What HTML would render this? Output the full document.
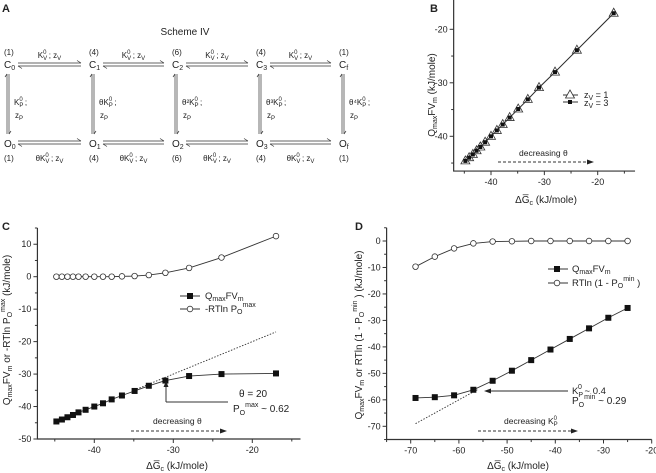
<!DOCTYPE html>
<html><head><meta charset="utf-8"><style>
body{margin:0;background:#fff}
svg{display:block;font-family:"Liberation Sans",sans-serif}
text{fill:#222}
</style></head><body>
<svg id="fig" width="656" height="473" viewBox="0 0 656 473">
<g font-size="11" font-weight="bold">
<text x="2" y="12">A</text>
<text x="430" y="12">B</text>
<text x="2" y="230">C</text>
<text x="355" y="230">D</text>
</g>
<g id="scheme" font-size="9"></g>
<g id="pb"></g>
<g id="pc"></g>
<g id="pd"></g>
</svg>
<script>
// Panel B data
const bX=[-44.8,-44.1,-43.4,-42.7,-42.0,-41.1,-40.0,-38.9,-37.8,-36.5,-34.9,-33.1,-31.0,-28.0,-23.9,-17.0];
const bZ1=[-44.6,-44.0,-43.4,-42.7,-42.0,-41.1,-40.0,-38.9,-37.8,-36.5,-34.9,-33.1,-30.9,-28.0,-23.9,-17.0];
const bZ3=[-44.6,-44.0,-43.4,-42.7,-42.0,-41.1,-40.0,-38.9,-37.8,-36.5,-34.9,-33.1,-30.9,-28.0,-23.9,-17.0];
// Panel C data
const cX=[-44.8,-44.1,-43.4,-42.7,-42.0,-41.1,-40.0,-38.9,-37.8,-36.5,-34.9,-33.1,-31.0,-28.0,-23.9,-17.0];
const cQ=[-44.6,-44.0,-43.3,-42.6,-41.8,-41.0,-40.0,-39.0,-37.8,-36.6,-35.2,-33.6,-32.0,-30.6,-30.0,-29.8];
const cP=[0,0,0,0,0,0,0,0,0,0.1,0.2,0.5,1.2,2.7,5.9,12.5];
// Panel D data
const dX=[-69,-65,-61,-57,-53,-49,-45,-41,-37,-33,-29,-25];
const dQ=[-59.3,-59.0,-58.3,-56.2,-52.8,-49.0,-45.0,-41.0,-37.0,-33.0,-29.0,-25.3];
const dP=[-9.7,-5.9,-2.8,-0.9,-0.2,-0.1,0,0,0,0,0,0];
const bXt=[-40,-30,-20], bYt=[-20,-30,-40];
const cXt=[-40,-30,-20], cYt=[10,0,-10,-20,-30,-40,-50];
const dXt=[-70,-60,-50,-40,-30,-20], dYt=[0,-10,-20,-30,-40,-50,-60,-70];

const NS="http://www.w3.org/2000/svg";
function mk(p,t,a,txt){const e=document.createElementNS(NS,t);for(const k in a)e.setAttribute(k,a[k]);if(txt!==undefined)e.textContent=txt;p.appendChild(e);return e;}
function lin(d0,d1,r0,r1){return v=>r0+(v-d0)*(r1-r0)/(d1-d0);}

function axes(g,X,Y,x0,x1,y0,y1,xt,yt,minorX,minorY){
  const ax=mk(g,'path',{d:`M${X(x0)},${Y(y1)}V${Y(y0)}H${X(x1)}`,fill:'none',stroke:'#333','stroke-width':1.2});
  
  
  xt.forEach(v=>{mk(g,'line',{x1:X(v),x2:X(v),y1:Y(y0),y2:Y(y0)+4,stroke:'#333'});
    const t=mk(g,'text',{x:X(v),y:Y(y0)+14,'text-anchor':'middle','font-size':9},String(v));
    
    });
  minorX.forEach(v=>mk(g,'line',{x1:X(v),x2:X(v),y1:Y(y0),y2:Y(y0)+2.5,stroke:'#333'}));
  yt.forEach(v=>{mk(g,'line',{x1:X(x0)-4,x2:X(x0),y1:Y(v),y2:Y(v),stroke:'#333'});
    const t=mk(g,'text',{x:X(x0)-6,y:Y(v)+3,'text-anchor':'end','font-size':9},String(v));
    
    });
  minorY.forEach(v=>mk(g,'line',{x1:X(x0)-2.5,x2:X(x0),y1:Y(v),y2:Y(v),stroke:'#333'}));
}
function series(g,X,Y,xs,ys,kind,name){
  const s=mk(g,'g',{});
  
  
  mk(s,'polyline',{points:xs.map((x,i)=>X(x)+','+Y(ys[i])).join(' '),fill:'none',stroke:'#333','stroke-width':0.9});
  xs.forEach((x,i)=>marker(s,X(x),Y(ys[i]),kind));
}
function marker(g,x,y,kind){
  let m;
  if(kind==='sq')m=mk(g,'rect',{x:x-3,y:y-3,width:6,height:6,fill:'#111'});
  else if(kind==='ci')m=mk(g,'circle',{cx:x,cy:y,r:2.8,fill:'#fff',stroke:'#333','stroke-width':0.8});
  else if(kind==='tri')m=mk(g,'path',{d:`M${x},${y-5}L${x+4.5},${y+3}H${x-4.5}Z`,fill:'#fff',stroke:'#333','stroke-width':0.8});
  else m=mk(g,'rect',{x:x-2,y:y-2,width:4,height:4,fill:'#111'});
  
  
}
function arrowR(g,x1,x2,y){mk(g,'line',{x1,x2:x2-5,y1:y,y2:y,stroke:'#333','stroke-dasharray':'3,2'});mk(g,'path',{d:`M${x2},${y}l-7,-2.5v5z`,fill:'#222'});}

// Panel B
(function(){const g=document.getElementById('pb');
const X=lin(-40,-20,491,597.7),Y=lin(-20,-40,29.3,136.3);
axes(g,X,Y,-47,-13,-46.5,-11.5,bXt,bYt,[-45,-35,-25,-15],[-25,-35,-45]);
series(g,X,Y,bX,bZ1,'tri','series-zv-1');
series(g,X,Y,bX,bZ3,'small','series-zv-3');
const l=mk(g,'g',{font:'9px'});
mk(l,'line',{x1:563,x2:578,y1:95,y2:95,stroke:'#333'});marker(l,570,95,'tri');
mk(l,'text',{x:584,y:98,'font-size':9},'z').appendChild(Object.assign(document.createElementNS(NS,'tspan'),{textContent:''}));
l.lastChild.innerHTML='z<tspan font-size="7" dy="2">V</tspan><tspan dy="-2"> =  1</tspan>';
mk(l,'line',{x1:563,x2:578,y1:102,y2:102,stroke:'#333'});marker(l,570,102,'small');
const t2=mk(l,'text',{x:584,y:106,'font-size':9});t2.innerHTML='z<tspan font-size="7" dy="2">V</tspan><tspan dy="-2"> =  3</tspan>';
mk(g,'text',{x:519,y:156,'font-size':8.5},'decreasing  θ');
arrowR(g,498,594,162);
const xl=mk(g,'text',{x:546,y:203,'text-anchor':'middle','font-size':10});xl.innerHTML='ΔG̅<tspan font-size="7" dy="2">c</tspan><tspan dy="-2"> (kJ/mole)</tspan>';

const yl=mk(g,'text',{transform:'translate(435,95) rotate(-90)','text-anchor':'middle','font-size':10});yl.innerHTML='Q<tspan font-size="7" dy="2">max</tspan><tspan dy="-2">FV</tspan><tspan font-size="7" dy="2">m</tspan><tspan dy="-2">  (kJ/mole)</tspan>';

})();

// Panel C
(function(){const g=document.getElementById('pc');
const X=lin(-40,-20,94.3,252.3),Y=lin(0,-50,276.7,439);
axes(g,X,Y,-47.2,-13.9,-50,15,cXt,cYt,[-45,-35,-25,-15],[15,5,-5,-15,-25,-35,-45]);
mk(g,'line',{x1:X(-35),y1:Y(-35),x2:X(-17),y2:Y(-17),stroke:'#333','stroke-dasharray':'1.5,1.5','stroke-width':0.9});
series(g,X,Y,cX,cQ,'sq','series-qmax-fvm');
series(g,X,Y,cX,cP,'ci','series-rtln-pomax');
const l=mk(g,'g',{});
mk(l,'line',{x1:180,x2:200,y1:296,y2:296,stroke:'#333'});marker(l,190,296,'sq');
let t=mk(l,'text',{x:205,y:299,'font-size':9.5});t.innerHTML='Q<tspan font-size="7" dy="2">max</tspan><tspan dy="-2">FV</tspan><tspan font-size="7" dy="2">m</tspan>';
mk(l,'line',{x1:180,x2:200,y1:309,y2:309,stroke:'#333'});marker(l,190,309,'ci');
t=mk(l,'text',{x:205,y:312,'font-size':9.5});t.innerHTML='-RTln P<tspan font-size="7" dy="2">O</tspan><tspan font-size="7" dy="-7">max</tspan>';
mk(g,'path',{d:'M166,402V383',stroke:'#333',fill:'none'});mk(g,'path',{d:'M166,381l-2.5,6h5z',fill:'#222'});
mk(g,'path',{d:'M166,402H228',stroke:'#333',fill:'none'});
mk(g,'text',{x:239,y:397,'font-size':10},'θ = 20');
t=mk(g,'text',{x:233,y:412,'font-size':10});t.innerHTML='P<tspan font-size="7" dy="3">O</tspan><tspan font-size="7" dy="-8">max</tspan><tspan dy="5"> ~ 0.62</tspan>';
mk(g,'text',{x:153,y:424,'font-size':8.5},'decreasing  θ');
arrowR(g,131,227,431);
const xl=mk(g,'text',{x:177,y:469,'text-anchor':'middle','font-size':10});xl.innerHTML='ΔG̅<tspan font-size="7" dy="2">c</tspan><tspan dy="-2"> (kJ/mole)</tspan>';

const yl=mk(g,'text',{transform:'translate(10,330) rotate(-90)','text-anchor':'middle','font-size':10});yl.innerHTML='Q<tspan font-size="7" dy="2">max</tspan><tspan dy="-2">FV</tspan><tspan font-size="7" dy="2">m</tspan><tspan dy="-2">  or  -RTln P</tspan><tspan font-size="7" dy="2">O</tspan><tspan font-size="7" dy="-7">max</tspan><tspan dy="5"> (kJ/mole)</tspan>';

})();

// Panel D
(function(){const g=document.getElementById('pd');
const X=lin(-70,-20,410.7,651.7),Y=lin(0,-70,241,426.3);
axes(g,X,Y,-75,-20,-75,5,dXt,dYt,[-75,-65,-55,-45,-35,-25],[5,-5,-15,-25,-35,-45,-55,-65,-75]);
mk(g,'line',{x1:X(-69),y1:Y(-69),x2:X(-56),y2:Y(-56),stroke:'#333','stroke-dasharray':'1.5,1.5','stroke-width':0.9});
series(g,X,Y,dX,dQ,'sq','series-qmax-fvm');
series(g,X,Y,dX,dP,'ci','series-rtln-1-pomin');
const l=mk(g,'g',{});
mk(l,'line',{x1:548,x2:568,y1:269,y2:269,stroke:'#333'});marker(l,557,269,'sq');
let t=mk(l,'text',{x:572,y:272,'font-size':9.5});t.innerHTML='Q<tspan font-size="7" dy="2">max</tspan><tspan dy="-2">FV</tspan><tspan font-size="7" dy="2">m</tspan>';
mk(l,'line',{x1:548,x2:568,y1:283,y2:283,stroke:'#333'});marker(l,557,283,'ci');
t=mk(l,'text',{x:572,y:286,'font-size':9.5});t.innerHTML='RTln (1 - P<tspan font-size="7" dy="2">O</tspan><tspan font-size="7" dy="-7">min</tspan><tspan dy="5"> )</tspan>';
mk(g,'line',{x1:568,x2:490,y1:391,y2:391,stroke:'#555','stroke-width':1.2});mk(g,'path',{d:'M484,391l7,-2.5v5z',fill:'#222'});
t=mk(g,'text',{x:572,y:394,'font-size':9.5});t.innerHTML='K<tspan font-size="7" dy="3">P</tspan><tspan font-size="7" dx="-5" dy="-8">0</tspan><tspan dy="5">  ~  0.4</tspan>';
t=mk(g,'text',{x:572,y:404,'font-size':10});t.innerHTML='P<tspan font-size="7" dy="3">O</tspan><tspan font-size="7" dy="-8">min</tspan><tspan dy="5"> ~ 0.29</tspan>';
t=mk(g,'text',{x:504,y:424,'font-size':8.5});t.innerHTML='decreasing  K<tspan font-size="6" dy="2">P</tspan><tspan font-size="6" dx="-4" dy="-6">0</tspan>';
arrowR(g,478,578,431);
const xl=mk(g,'text',{x:518,y:469,'text-anchor':'middle','font-size':10});xl.innerHTML='ΔG̅<tspan font-size="7" dy="2">c</tspan><tspan dy="-2"> (kJ/mole)</tspan>';

const yl=mk(g,'text',{transform:'translate(362,335) rotate(-90)','text-anchor':'middle','font-size':10});yl.innerHTML='Q<tspan font-size="7" dy="2">max</tspan><tspan dy="-2">FV</tspan><tspan font-size="7" dy="2">m</tspan><tspan dy="-2">  or  RTln (1 - P</tspan><tspan font-size="7" dy="2">O</tspan><tspan font-size="7" dy="-7">min</tspan><tspan dy="5"> ) (kJ/mole)</tspan>';

})();

// Scheme
(function(){const g=document.getElementById('scheme');
mk(g,'text',{x:185,y:35,'text-anchor':'middle','font-size':10},'Scheme IV');
const xs=[10,95,178,262,345];const w=['(1)','(4)','(6)','(4)','(1)'];const sub=['0','1','2','3','f'];
const th=['','θ','θ²','θ³','θ⁴'];
xs.forEach((x,i)=>{
  mk(g,'text',{x:x-6,y:55,'font-size':8},w[i]);
  let t=mk(g,'text',{x:x-6,y:68,'font-size':10});t.innerHTML='C<tspan font-size="7" dy="2">'+sub[i]+'</tspan>';
  t=mk(g,'text',{x:x-6,y:147,'font-size':10});t.innerHTML='O<tspan font-size="7" dy="2">'+sub[i]+'</tspan>';
  mk(g,'text',{x:x-6,y:161,'font-size':8},w[i]);
  // vertical arrows
  const vx=x-2;
  mk(g,'path',{d:`M${vx-1},74V134 M${vx+1},74V134`,stroke:'#333','stroke-width':0.7,fill:'none'});
  mk(g,'path',{d:`M${vx-1},74l-2,3 M${vx+1},134l2,-3`,stroke:'#333','stroke-width':0.7,fill:'none'});
  t=mk(g,'text',{x:x+4,y:105,'font-size':8});t.innerHTML=th[i]+'K<tspan font-size="6" dy="2">P</tspan><tspan font-size="6" dx="-4" dy="-6">0</tspan><tspan dy="4">  ;</tspan>';
  t=mk(g,'text',{x:x+5,y:118,'font-size':8});t.innerHTML='z<tspan font-size="6" dy="2">P</tspan>';
  if(i<4){const a=x+8,b=xs[i+1]-14;
    mk(g,'path',{d:`M${a},63H${b}M${a},66H${b}M${b},63l-4,-2.5M${a},66l4,2.5`,stroke:'#333','stroke-width':0.7,fill:'none'});
    mk(g,'path',{d:`M${a},141H${b}M${a},144H${b}M${b},141l-4,-2.5M${a},144l4,2.5`,stroke:'#333','stroke-width':0.7,fill:'none'});
    const cx=(a+b)/2;
    t=mk(g,'text',{x:cx,y:58,'text-anchor':'middle','font-size':8});t.innerHTML='K<tspan font-size="6" dy="2">V</tspan><tspan font-size="6" dx="-4" dy="-6">0</tspan><tspan dy="4">  ;  z</tspan><tspan font-size="6" dy="2">V</tspan>';
    t=mk(g,'text',{x:cx,y:161,'text-anchor':'middle','font-size':8});t.innerHTML='θK<tspan font-size="6" dy="2">V</tspan><tspan font-size="6" dx="-4" dy="-6">0</tspan><tspan dy="4">  ;  z</tspan><tspan font-size="6" dy="2">V</tspan>';
  }
});
})();
</script>
</body></html>
